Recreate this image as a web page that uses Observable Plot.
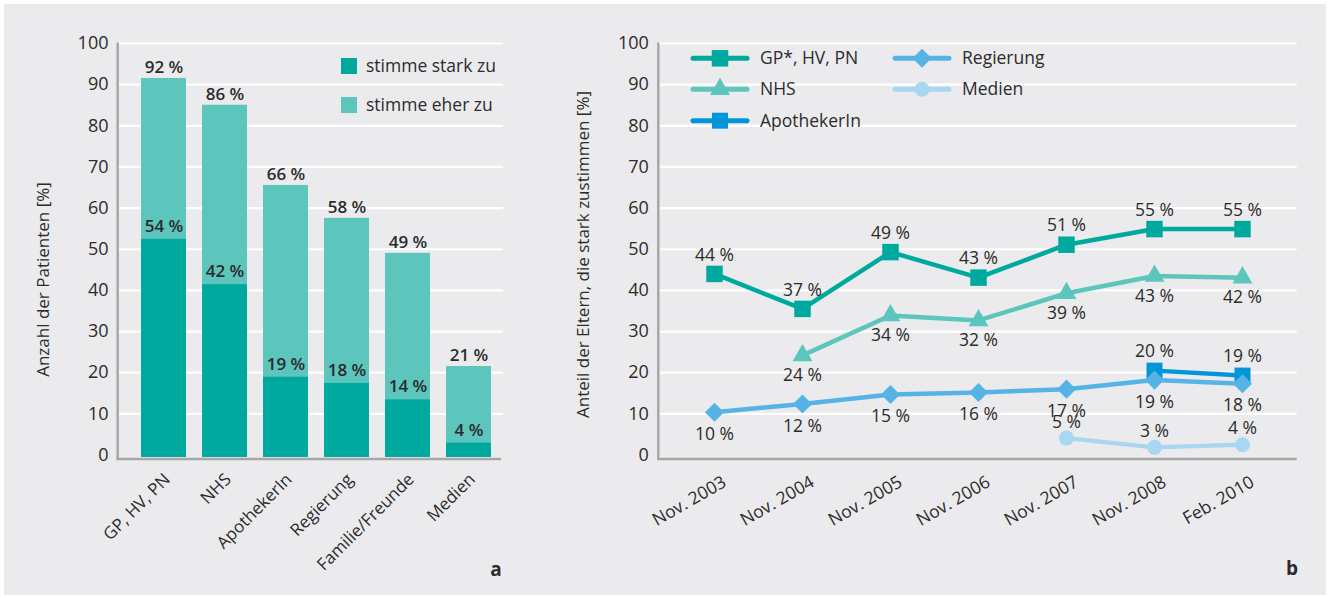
<!DOCTYPE html>
<html>
<head>
<meta charset="utf-8">
<script src="https://cdn.jsdelivr.net/npm/d3@7"></script>
<script src="https://cdn.jsdelivr.net/npm/@observablehq/plot@0.6"></script>
<style>
html, body { margin: 0; padding: 0; background: #ffffff; }
#wrap { position: relative; width: 1330px; height: 598px; overflow: hidden; font-family: "Open Sans", sans-serif; }
#bg { position: absolute; left: 4px; top: 4px; width: 1322px; height: 591px; background: #ebebed; }
.panel { position: absolute; top: 0; }
.panel svg { display: block; overflow: visible; }
</style>
</head>
<body>
<div id="wrap">
  <div id="bg"></div>
  <div id="pa" class="panel" style="left:0px"></div>
  <div id="pb" class="panel" style="left:515px"></div>
</div>
<script>
// ---------- Panel a data ----------
const categories = ["GP, HV, PN", "NHS", "ApothekerIn", "Regierung", "Familie/Freunde", "Medien"];
const strongValues = [53, 42, 19.5, 18, 14, 3.5];
const somewhatValues = [38.5, 43, 46, 39.5, 35, 18];
const strongLabels = ["54 %", "42 %", "19 %", "18 %", "14 %", "4 %"];
const totalLabels = ["92 %", "86 %", "66 %", "58 %", "49 %", "21 %"];
const seriesA = ["stimme stark zu", "stimme eher zu"];
const colorsA = ["#00a99d", "#5cc5bc"];
const yTicks = [0, 10, 20, 30, 40, 50, 60, 70, 80, 90, 100];
const yTitleA = "Anzahl der Patienten [%]";

// ---------- Panel b data ----------
const dates = ["Nov. 2003", "Nov. 2004", "Nov. 2005", "Nov. 2006", "Nov. 2007", "Nov. 2008", "Feb. 2010"];
const seriesB = ["GP*, HV, PN", "NHS", "ApothekerIn", "Regierung", "Medien"];
const colorsB = ["#00a99d", "#5cc5bc", "#0096d8", "#56b3e5", "#a9d6f0"];
const gpValues = [44, 35.5, 49.3, 43.1, 51.1, 54.9, 54.9];
const gpLabels = ["44 %", "37 %", "49 %", "43 %", "51 %", "55 %", "55 %"];
const nhsValues = [null, 24.2, 33.9, 32.7, 39.3, 43.5, 43.1];
const nhsLabels = [null, "24 %", "34 %", "32 %", "39 %", "43 %", "42 %"];
const apoValues = [null, null, null, null, null, 20.5, 19.3];
const apoLabels = [null, null, null, null, null, "20 %", "19 %"];
const regValues = [10.4, 12.4, 14.7, 15.2, 16.0, 18.2, 17.3];
const regLabels = ["10 %", "12 %", "15 %", "16 %", "17 %", "19 %", "18 %"];
const medValues = [null, null, null, null, 4.1, 1.85, 2.5];
const medLabels = [null, null, null, null, "5 %", "3 %", "4 %"];
const yTitleB = "Anteil der Eltern, die stark zustimmen [%]";

const FONT = '"Open Sans", sans-serif';
const INK = "#2b2b2b";
const AXIS = "#a7a7a9";

// ================= Panel a =================
const barData = categories.flatMap((c, i) => [
  {cat: c, type: seriesA[0], value: strongValues[i]},
  {cat: c, type: seriesA[1], value: somewhatValues[i]}
]);
const totals = categories.map((c, i) => strongValues[i] + somewhatValues[i]);

const chartA = Plot.plot({
  width: 515, height: 598,
  marginLeft: 118, marginRight: 12, marginTop: 43, marginBottom: 139,
  style: {fontFamily: FONT, fontSize: "18px", color: INK, background: "transparent", overflow: "visible"},
  x: {domain: categories, paddingInner: 0.258, paddingOuter: 0.234, align: 0.655, axis: null},
  y: {domain: [-1.1, 100], ticks: yTicks, tickSize: 0, tickPadding: 10, label: null, tickFormat: d => d},
  color: {domain: seriesA, range: colorsA},
  marks: [
    Plot.ruleY(yTicks.filter(t => t > 0), {stroke: "#ffffff", strokeWidth: 2.2}),
    Plot.barY(barData, {x: "cat", y: "value", fill: "type", insetBottom: -2.5}),
    Plot.text(categories, {x: d => d, y: (d, i) => totals[i], text: (d, i) => totalLabels[i], dy: -10.5, fontWeight: 600, fontSize: 17, fill: INK}),
    Plot.text(categories, {x: d => d, y: (d, i) => strongValues[i], text: (d, i) => strongLabels[i], dy: -10.5, fontWeight: 600, fontSize: 17, fill: INK}),
    Plot.text(categories, {x: d => d, frameAnchor: "bottom", text: d => d, rotate: -45, textAnchor: "end", dx: 7, dy: 21, fontSize: 17, fill: INK}),
    Plot.text([yTitleA], {frameAnchor: "left", text: d => d, rotate: -90, textAnchor: "middle", dx: -75, dy: 28, fontSize: 17, fill: INK})
  ]
});
document.getElementById("pa").appendChild(chartA);

// axis lines + legend for panel a
{
  const svg = d3.select(chartA);
  const ys = chartA.scale("y");
  const y = d3.scaleLinear(ys.domain, ys.range);
  const g = svg.append("g");
  g.append("line").attr("x1", 117.7).attr("x2", 117.7).attr("y1", y(100) - 0.5).attr("y2", y(-1.1) + 1)
    .attr("stroke", AXIS).attr("stroke-width", 2.5);
  g.append("line").attr("x1", 116.5).attr("x2", 501).attr("y1", y(-1.1)).attr("y2", y(-1.1))
    .attr("stroke", AXIS).attr("stroke-width", 2.5);
  const leg = svg.append("g").attr("font-family", FONT).attr("font-size", 17.5).attr("fill", INK).attr("text-anchor", "start");
  seriesA.forEach((s, i) => {
    const yy = 58 + i * 39;
    leg.append("rect").attr("x", 341).attr("y", yy).attr("width", 16).attr("height", 16).attr("fill", colorsA[i]);
    leg.append("text").attr("x", 366).attr("y", yy + 8).attr("dy", "0.35em").text(s);
  });
  svg.append("text").attr("x", 496).attr("y", 569).attr("dy", "0.35em").attr("text-anchor", "middle")
    .attr("font-family", FONT).attr("font-weight", 700).attr("font-size", 19).attr("fill", INK).text("a");
}

// ================= Panel b =================
const valueSets = [gpValues, nhsValues, apoValues, regValues, medValues];
const labelSets = [gpLabels, nhsLabels, apoLabels, regLabels, medLabels];
const lineData = seriesB.flatMap((s, k) =>
  dates.map((d, i) => ({series: s, date: d, value: valueSets[k][i], label: labelSets[k][i]}))
       .filter(r => r.value != null)
);
const symbolsB = ["square", "triangle", "square", "diamond2", "circle"];
const radiiB = [9.3, 7.4, 9.0, 8.6, 7.5];
const labelDy = [-19, 20, -19, 22, -16];
const widthsB = [4.5, 4.5, 4.5, 4.5, 4.2];

const marksB = [Plot.ruleY(yTicks.filter(t => t > 0), {stroke: "#ffffff", strokeWidth: 2.2})];
seriesB.forEach((s, k) => {
  const sub = lineData.filter(r => r.series === s);
  marksB.push(Plot.line(sub, {x: "date", y: "value", stroke: colorsB[k], strokeWidth: widthsB[k], strokeLinejoin: "round"}));
  marksB.push(Plot.dot(sub, {x: "date", y: "value", symbol: () => symbolsB[k], r: radiiB[k], fill: colorsB[k], stroke: "none"}));
});
seriesB.forEach((s, k) => {
  const sub = lineData.filter(r => r.series === s);
  marksB.push(Plot.text(sub, {x: "date", y: "value", text: "label", dy: labelDy[k], fontSize: 17.5, fill: INK}));
});
marksB.push(Plot.text(dates, {x: d => d, frameAnchor: "bottom", text: d => d, rotate: -30, textAnchor: "end", dx: 13, dy: 26, fontSize: 17.5, fill: INK}));
marksB.push(Plot.text([yTitleB], {frameAnchor: "left", text: d => d, rotate: -90, textAnchor: "middle", dx: -75.3, dy: 3, fontSize: 17, fill: INK}));

const chartB = Plot.plot({
  width: 815, height: 598,
  marginLeft: 143.3, marginRight: 33.3, marginTop: 43, marginBottom: 139,
  style: {fontFamily: FONT, fontSize: "18px", color: INK, background: "transparent", overflow: "visible"},
  x: {domain: dates, type: "point", padding: 0.6, axis: null},
  y: {domain: [-1.1, 100], ticks: yTicks, tickSize: 0, tickPadding: 10, label: null, tickFormat: d => d},
  symbol: {type: "identity"},
  marks: marksB
});
document.getElementById("pb").appendChild(chartB);

{
  const svg = d3.select(chartB);
  const ys = chartB.scale("y");
  const y = d3.scaleLinear(ys.domain, ys.range);
  const g = svg.append("g");
  g.append("line").attr("x1", 143.3).attr("x2", 143.3).attr("y1", y(100) - 0.5).attr("y2", y(-1.1) + 1)
    .attr("stroke", AXIS).attr("stroke-width", 2.5);
  g.append("line").attr("x1", 142).attr("x2", 781.7).attr("y1", y(-1.1)).attr("y2", y(-1.1))
    .attr("stroke", AXIS).attr("stroke-width", 2.5);

  const symMap = {square: d3.symbolSquare, triangle: d3.symbolTriangle, diamond2: d3.symbolDiamond2, circle: d3.symbolCircle};
  const pos = [[178, 58.3], [178, 89.3], [178, 120.7], [380, 58.3], [380, 89.3]];
  const leg = svg.append("g").attr("font-family", FONT).attr("font-size", 17.5).attr("fill", INK).attr("text-anchor", "start");
  seriesB.forEach((s, k) => {
    const [lx, ly] = pos[k];
    leg.append("line").attr("x1", lx).attr("x2", lx + 54).attr("y1", ly).attr("y2", ly)
      .attr("stroke", colorsB[k]).attr("stroke-width", 5).attr("stroke-linecap", "round");
    leg.append("path").attr("transform", `translate(${lx + 27},${ly})`)
      .attr("d", d3.symbol(symMap[symbolsB[k]], Math.PI * radiiB[k] * radiiB[k])())
      .attr("fill", colorsB[k]);
    leg.append("text").attr("x", lx + 67).attr("y", ly).attr("dy", "0.35em").text(s);
  });
  svg.append("text").attr("x", 777).attr("y", 568).attr("dy", "0.35em").attr("text-anchor", "middle")
    .attr("font-family", FONT).attr("font-weight", 700).attr("font-size", 19).attr("fill", INK).text("b");
}
</script>
</body>
</html>
